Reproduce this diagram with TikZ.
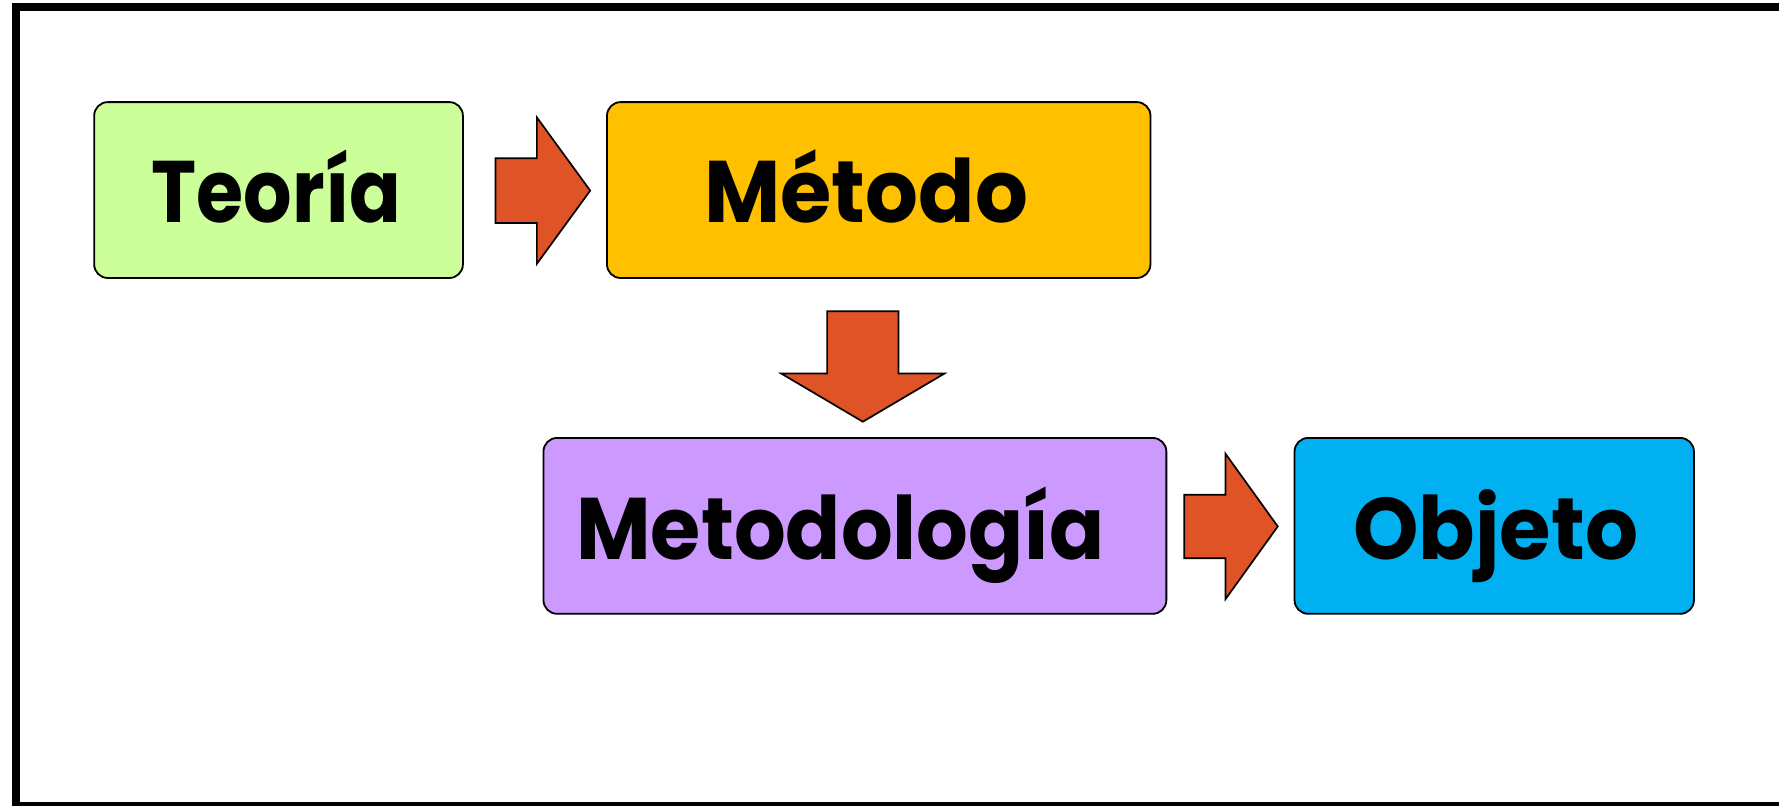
\documentclass[tikz,border=0pt]{standalone}
\usepackage{fontspec}
\setmainfont{Poppins}
\usetikzlibrary{calc}

\definecolor{teoriaFill}{HTML}{CCFF99}
\definecolor{metodoFill}{HTML}{FFC000}
\definecolor{metodologiaFill}{HTML}{CC99FF}
\definecolor{objetoFill}{HTML}{00B0F0}
\definecolor{arrowFill}{HTML}{E05327}

% block arrow from #1 (tail) to #2 (tip): shaft half width #3, head half width #4, head length #5
\newcommand\blockarr[5]{%
  \coordinate (ba-head) at ($(#2)!#5pt!(#1)$);
  \draw[arrowshape]
    ($(#1)!#3pt!90:(#2)$) -- ($(ba-head)!#3pt!90:(#2)$) -- ($(ba-head)!#4pt!90:(#2)$)
    -- (#2)
    -- ($(ba-head)!#4pt!-90:(#2)$) -- ($(ba-head)!#3pt!-90:(#2)$) -- ($(#1)!#3pt!-90:(#2)$)
    -- cycle;}

% label set to a given overall width, keeping its height
\newcommand\fitlabel[2]{\resizebox{#1}{\height}{#2}}

\begin{document}
\begin{tikzpicture}[x=1pt,y=-1pt,
  box/.style={draw=black, line width=1.6pt, rounded corners=12pt,
    minimum height=155pt, inner sep=0pt},
  label text/.style={anchor=base, inner sep=0pt,
    font=\fontsize{77}{77}\selectfont\bfseries},
  arrowshape/.style={draw=black, line width=1.5pt, fill=arrowFill, line join=miter},
  frameline/.style={draw=black, line cap=butt}]

\useasboundingbox (0,0) rectangle (1568,710);
\fill[white] (0,0) rectangle (1568,710);

% page frame
\draw[frameline, line width=6.5pt] (11,6.2) -- (1568,6.2);
\draw[frameline, line width=6.5pt] (14.2,3) -- (14.2,710);
\draw[frameline, line width=3pt] (14.2,708.5) -- (1568,708.5);

% boxes
\node[box, fill=teoriaFill, minimum width=325pt] (teoria) at (245.5,167.5) {};
\node[box, fill=metodoFill, minimum width=479pt] (metodo) at (774.5,167.5) {};
\node[box, fill=metodologiaFill, minimum width=549pt] (metodologia) at (753.5,463.5) {};
\node[box, fill=objetoFill, minimum width=352pt] (objeto) at (1317,463.5) {};

% labels
\node[label text] (teoria-txt) at (243.8,196.3) {\fitlabel{220pt}{Teoría}};
\node[label text] (metodo-txt) at (763.5,196.3) {\fitlabel{285pt}{Método}};
\node[label text] (metodologia-txt) at (741,493.5) {\fitlabel{466pt}{Metodología}};
\node[label text] (objeto-txt) at (1318.3,493.5) {\fitlabel{251pt}{Objeto}};

% block arrows between the boxes
\coordinate (a1s) at ($(teoria.east)+(28,0.5)$);
\coordinate (a1e) at ($(metodo.west)+(-14,0.5)$);
\blockarr{a1s}{a1e}{28.5}{64.5}{47}

\coordinate (a2s) at ($(metodo.south)+(-14,28.5)$);
\coordinate (a2e) at ($(metodologia.north)+(7,-13.5)$);
\blockarr{a2s}{a2e}{31.5}{72}{42.5}

\coordinate (a3s) at ($(metodologia.east)+(15,0.5)$);
\coordinate (a3e) at ($(objeto.west)+(-14,0.5)$);
\blockarr{a3s}{a3e}{28}{64}{46}

\end{tikzpicture}
\end{document}
